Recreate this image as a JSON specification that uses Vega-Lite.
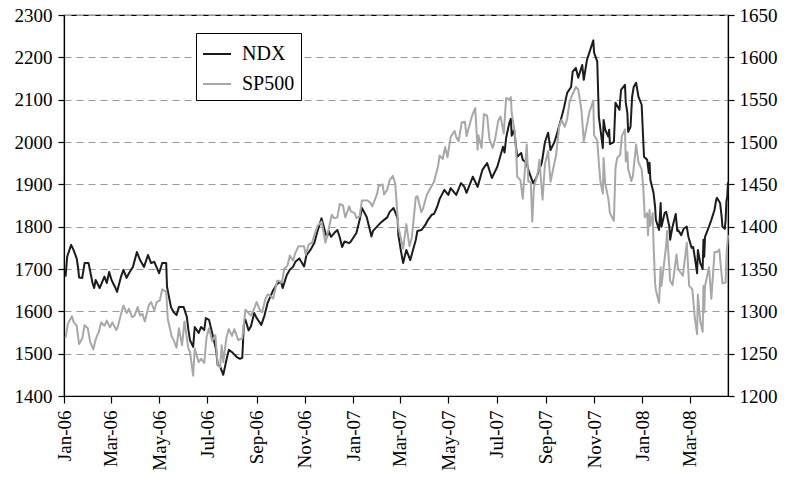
{
  "$schema": "https://vega.github.io/schema/vega-lite/v6.json",
  "width": 664,
  "height": 381,
  "autosize": {"type": "none"},
  "padding": {"left": 64, "top": 15, "right": 61, "bottom": 83},
  "background": "white",
  "config": {
    "view": {"stroke": "#000", "strokeWidth": 1.2},
    "font": "Liberation Serif",
    "axis": {"labelFont": "Liberation Serif", "labelFontSize": 19, "labelColor": "#000", "domainColor": "#000", "tickColor": "#000", "domainWidth": 1.2, "tickWidth": 1.2, "title": null}
  },
  "datasets": {
    "ndx": [
      {"d":"2006-01-03","v":1682},{"d":"2006-01-05","v":1729},{"d":"2006-01-10","v":1757},{"d":"2006-01-13","v":1745},{"d":"2006-01-17","v":1725},{"d":"2006-01-19","v":1700},{"d":"2006-01-20","v":1680},{"d":"2006-01-24","v":1679},{"d":"2006-01-27","v":1714},{"d":"2006-02-01","v":1714},{"d":"2006-02-06","v":1667},{"d":"2006-02-08","v":1655},{"d":"2006-02-10","v":1674},{"d":"2006-02-15","v":1655},{"d":"2006-02-21","v":1682},{"d":"2006-02-24","v":1667},{"d":"2006-02-27","v":1693},{"d":"2006-03-02","v":1674},{"d":"2006-03-07","v":1655},{"d":"2006-03-09","v":1646},{"d":"2006-03-14","v":1682},{"d":"2006-03-17","v":1698},{"d":"2006-03-21","v":1679},{"d":"2006-03-24","v":1690},{"d":"2006-03-29","v":1705},{"d":"2006-04-03","v":1740},{"d":"2006-04-07","v":1721},{"d":"2006-04-12","v":1705},{"d":"2006-04-17","v":1733},{"d":"2006-04-21","v":1714},{"d":"2006-04-25","v":1717},{"d":"2006-05-01","v":1690},{"d":"2006-05-05","v":1714},{"d":"2006-05-10","v":1714},{"d":"2006-05-11","v":1658},{"d":"2006-05-16","v":1610},{"d":"2006-05-19","v":1599},{"d":"2006-05-23","v":1591},{"d":"2006-05-26","v":1610},{"d":"2006-06-01","v":1610},{"d":"2006-06-05","v":1587},{"d":"2006-06-07","v":1556},{"d":"2006-06-09","v":1532},{"d":"2006-06-13","v":1516},{"d":"2006-06-15","v":1563},{"d":"2006-06-20","v":1549},{"d":"2006-06-23","v":1563},{"d":"2006-06-27","v":1556},{"d":"2006-06-29","v":1584},{"d":"2006-07-03","v":1580},{"d":"2006-07-07","v":1549},{"d":"2006-07-12","v":1509},{"d":"2006-07-14","v":1473},{"d":"2006-07-17","v":1470},{"d":"2006-07-21","v":1450},{"d":"2006-07-25","v":1485},{"d":"2006-07-28","v":1509},{"d":"2006-08-02","v":1502},{"d":"2006-08-07","v":1492},{"d":"2006-08-11","v":1488},{"d":"2006-08-14","v":1490},{"d":"2006-08-16","v":1570},{"d":"2006-08-18","v":1580},{"d":"2006-08-22","v":1555},{"d":"2006-08-25","v":1565},{"d":"2006-08-29","v":1596},{"d":"2006-09-01","v":1585},{"d":"2006-09-07","v":1568},{"d":"2006-09-11","v":1590},{"d":"2006-09-15","v":1620},{"d":"2006-09-22","v":1650},{"d":"2006-09-27","v":1665},{"d":"2006-10-02","v":1670},{"d":"2006-10-04","v":1655},{"d":"2006-10-09","v":1685},{"d":"2006-10-13","v":1698},{"d":"2006-10-17","v":1705},{"d":"2006-10-20","v":1717},{"d":"2006-10-25","v":1725},{"d":"2006-10-31","v":1706},{"d":"2006-11-03","v":1733},{"d":"2006-11-08","v":1745},{"d":"2006-11-13","v":1762},{"d":"2006-11-17","v":1790},{"d":"2006-11-22","v":1820},{"d":"2006-11-27","v":1785},{"d":"2006-11-29","v":1776},{"d":"2006-12-01","v":1790},{"d":"2006-12-04","v":1776},{"d":"2006-12-08","v":1785},{"d":"2006-12-12","v":1792},{"d":"2006-12-15","v":1775},{"d":"2006-12-18","v":1752},{"d":"2006-12-21","v":1765},{"d":"2006-12-27","v":1761},{"d":"2006-12-29","v":1765},
      {"d":"2007-01-05","v":1785},{"d":"2007-01-09","v":1815},{"d":"2007-01-12","v":1844},{"d":"2007-01-18","v":1823},{"d":"2007-01-24","v":1777},{"d":"2007-01-26","v":1790},{"d":"2007-01-31","v":1800},{"d":"2007-02-05","v":1810},{"d":"2007-02-09","v":1816},{"d":"2007-02-13","v":1822},{"d":"2007-02-16","v":1835},{"d":"2007-02-21","v":1844},{"d":"2007-02-26","v":1820},{"d":"2007-02-27","v":1780},{"d":"2007-03-02","v":1745},{"d":"2007-03-05","v":1714},{"d":"2007-03-09","v":1745},{"d":"2007-03-14","v":1721},{"d":"2007-03-16","v":1735},{"d":"2007-03-21","v":1769},{"d":"2007-03-23","v":1790},{"d":"2007-03-28","v":1792},{"d":"2007-04-02","v":1804},{"d":"2007-04-05","v":1815},{"d":"2007-04-10","v":1828},{"d":"2007-04-13","v":1830},{"d":"2007-04-17","v":1847},{"d":"2007-04-20","v":1865},{"d":"2007-04-26","v":1887},{"d":"2007-05-01","v":1875},{"d":"2007-05-04","v":1891},{"d":"2007-05-11","v":1875},{"d":"2007-05-17","v":1903},{"d":"2007-05-21","v":1895},{"d":"2007-05-24","v":1880},{"d":"2007-06-01","v":1918},{"d":"2007-06-07","v":1894},{"d":"2007-06-13","v":1934},{"d":"2007-06-19","v":1950},{"d":"2007-06-25","v":1915},{"d":"2007-07-02","v":1942},{"d":"2007-07-09","v":1989},{"d":"2007-07-11","v":1975},{"d":"2007-07-13","v":2010},{"d":"2007-07-17","v":2045},{"d":"2007-07-19","v":2055},{"d":"2007-07-20","v":2015},{"d":"2007-07-23","v":2029},{"d":"2007-07-26","v":1981},{"d":"2007-07-27","v":1965},{"d":"2007-08-01","v":1974},{"d":"2007-08-03","v":1958},{"d":"2007-08-08","v":1950},{"d":"2007-08-10","v":1934},{"d":"2007-08-16","v":1903},{"d":"2007-08-20","v":1915},{"d":"2007-08-27","v":1951},{"d":"2007-08-31","v":2000},{"d":"2007-09-04","v":2022},{"d":"2007-09-07","v":1981},{"d":"2007-09-12","v":2000},{"d":"2007-09-14","v":2012},{"d":"2007-09-20","v":2052},{"d":"2007-09-24","v":2081},{"d":"2007-09-28","v":2116},{"d":"2007-10-03","v":2130},{"d":"2007-10-05","v":2166},{"d":"2007-10-09","v":2175},{"d":"2007-10-12","v":2152},{"d":"2007-10-17","v":2182},{"d":"2007-10-19","v":2147},{"d":"2007-10-23","v":2194},{"d":"2007-10-26","v":2211},{"d":"2007-10-31","v":2240},{"d":"2007-11-01","v":2211},{"d":"2007-11-05","v":2190},{"d":"2007-11-07","v":2060},{"d":"2007-11-12","v":1986},{"d":"2007-11-13","v":2052},{"d":"2007-11-15","v":2029},{"d":"2007-11-19","v":2013},{"d":"2007-11-20","v":2029},{"d":"2007-11-21","v":1995},{"d":"2007-11-26","v":2000},{"d":"2007-11-28","v":2093},{"d":"2007-12-03","v":2076},{"d":"2007-12-05","v":2123},{"d":"2007-12-10","v":2135},{"d":"2007-12-11","v":2093},{"d":"2007-12-13","v":2069},{"d":"2007-12-14","v":2024},{"d":"2007-12-17","v":2036},{"d":"2007-12-19","v":2107},{"d":"2007-12-21","v":2130},{"d":"2007-12-24","v":2140},{"d":"2007-12-27","v":2107},{"d":"2007-12-31","v":2088},
      {"d":"2008-01-03","v":1965},{"d":"2008-01-07","v":1958},{"d":"2008-01-09","v":1927},{"d":"2008-01-10","v":1951},{"d":"2008-01-11","v":1911},{"d":"2008-01-15","v":1880},{"d":"2008-01-17","v":1847},{"d":"2008-01-18","v":1816},{"d":"2008-01-22","v":1792},{"d":"2008-01-23","v":1823},{"d":"2008-01-24","v":1856},{"d":"2008-01-25","v":1800},{"d":"2008-01-29","v":1832},{"d":"2008-01-31","v":1835},{"d":"2008-02-04","v":1800},{"d":"2008-02-05","v":1769},{"d":"2008-02-08","v":1800},{"d":"2008-02-12","v":1830},{"d":"2008-02-14","v":1790},{"d":"2008-02-15","v":1792},{"d":"2008-02-19","v":1780},{"d":"2008-02-22","v":1795},{"d":"2008-02-26","v":1800},{"d":"2008-02-28","v":1776},{"d":"2008-03-03","v":1750},{"d":"2008-03-05","v":1752},{"d":"2008-03-07","v":1729},{"d":"2008-03-10","v":1690},{"d":"2008-03-11","v":1745},{"d":"2008-03-14","v":1714},{"d":"2008-03-17","v":1700},{"d":"2008-03-18","v":1769},{"d":"2008-03-19","v":1729},{"d":"2008-03-20","v":1776},{"d":"2008-03-25","v":1800},{"d":"2008-03-28","v":1816},{"d":"2008-04-01","v":1840},{"d":"2008-04-03","v":1863},{"d":"2008-04-04","v":1868},{"d":"2008-04-08","v":1856},{"d":"2008-04-10","v":1823},{"d":"2008-04-11","v":1800},{"d":"2008-04-14","v":1795},{"d":"2008-04-15","v":1816},{"d":"2008-04-16","v":1860},{"d":"2008-04-17","v":1870},{"d":"2008-04-18","v":1905}
    ],
    "sp": [
      {"d":"2006-01-03","v":1268.8},{"d":"2006-01-06","v":1285.5},{"d":"2006-01-11","v":1294.2},{"d":"2006-01-13","v":1287.6},{"d":"2006-01-17","v":1283},{"d":"2006-01-20","v":1261.5},{"d":"2006-01-24","v":1268},{"d":"2006-01-27","v":1283.7},{"d":"2006-01-31","v":1280},{"d":"2006-02-03","v":1264},{"d":"2006-02-07","v":1255},{"d":"2006-02-10","v":1267},{"d":"2006-02-14","v":1276},{"d":"2006-02-17","v":1287},{"d":"2006-02-21","v":1283},{"d":"2006-02-24","v":1289},{"d":"2006-02-28","v":1281},{"d":"2006-03-03","v":1287},{"d":"2006-03-08","v":1278},{"d":"2006-03-10","v":1282},{"d":"2006-03-14","v":1297},{"d":"2006-03-17","v":1307},{"d":"2006-03-21","v":1298},{"d":"2006-03-24","v":1303},{"d":"2006-03-28","v":1293},{"d":"2006-03-31","v":1295},{"d":"2006-04-04","v":1305},{"d":"2006-04-07","v":1295},{"d":"2006-04-10","v":1297},{"d":"2006-04-13","v":1288},{"d":"2006-04-18","v":1307},{"d":"2006-04-21","v":1311},{"d":"2006-04-25","v":1301},{"d":"2006-04-28","v":1311},{"d":"2006-05-02","v":1313},{"d":"2006-05-05","v":1326},{"d":"2006-05-10","v":1323},{"d":"2006-05-12","v":1291},{"d":"2006-05-17","v":1270},{"d":"2006-05-19","v":1267},{"d":"2006-05-23","v":1257},{"d":"2006-05-26","v":1280},{"d":"2006-05-30","v":1260},{"d":"2006-06-02","v":1288},{"d":"2006-06-07","v":1256},{"d":"2006-06-09","v":1252},{"d":"2006-06-13","v":1224},{"d":"2006-06-15","v":1256},{"d":"2006-06-20","v":1240},{"d":"2006-06-23","v":1244},{"d":"2006-06-27","v":1239},{"d":"2006-06-30","v":1270},{"d":"2006-07-03","v":1280},{"d":"2006-07-07","v":1265},{"d":"2006-07-11","v":1272},{"d":"2006-07-14","v":1236},{"d":"2006-07-17","v":1234},{"d":"2006-07-19","v":1260},{"d":"2006-07-21","v":1240},{"d":"2006-07-25","v":1269},{"d":"2006-07-28","v":1279},{"d":"2006-08-01","v":1271},{"d":"2006-08-04","v":1279},{"d":"2006-08-09","v":1266},{"d":"2006-08-11","v":1267},{"d":"2006-08-14","v":1268},{"d":"2006-08-18","v":1302},{"d":"2006-08-22","v":1298},{"d":"2006-08-25","v":1295},{"d":"2006-08-29","v":1303},{"d":"2006-09-01","v":1311},{"d":"2006-09-06","v":1300},{"d":"2006-09-08","v":1299},{"d":"2006-09-12","v":1314},{"d":"2006-09-15","v":1320},{"d":"2006-09-19","v":1318},{"d":"2006-09-22","v":1315},{"d":"2006-09-27","v":1336},{"d":"2006-09-29","v":1336},{"d":"2006-10-03","v":1334},{"d":"2006-10-06","v":1350},{"d":"2006-10-10","v":1354},{"d":"2006-10-13","v":1366},{"d":"2006-10-17","v":1360},{"d":"2006-10-20","v":1369},{"d":"2006-10-24","v":1377},{"d":"2006-10-27","v":1377},{"d":"2006-10-31","v":1377},{"d":"2006-11-02","v":1367},{"d":"2006-11-06","v":1379},{"d":"2006-11-10","v":1381},{"d":"2006-11-14","v":1393},{"d":"2006-11-17","v":1401},{"d":"2006-11-22","v":1406},{"d":"2006-11-27","v":1381},{"d":"2006-12-01","v":1397},{"d":"2006-12-05","v":1414},{"d":"2006-12-08","v":1410},{"d":"2006-12-12","v":1411},{"d":"2006-12-15","v":1427},{"d":"2006-12-19","v":1425},{"d":"2006-12-22","v":1411},{"d":"2006-12-27","v":1424},{"d":"2006-12-29","v":1418},
      {"d":"2007-01-03","v":1416},{"d":"2007-01-05","v":1410},{"d":"2007-01-09","v":1412},{"d":"2007-01-12","v":1431},{"d":"2007-01-16","v":1431},{"d":"2007-01-19","v":1431},{"d":"2007-01-23","v":1428},{"d":"2007-01-25","v":1424},{"d":"2007-01-31","v":1438},{"d":"2007-02-02","v":1448},{"d":"2007-02-07","v":1450},{"d":"2007-02-09","v":1438},{"d":"2007-02-13","v":1444},{"d":"2007-02-16","v":1455},{"d":"2007-02-20","v":1460},{"d":"2007-02-23","v":1451},{"d":"2007-02-27","v":1399},{"d":"2007-03-02","v":1387},{"d":"2007-03-05","v":1374},{"d":"2007-03-09","v":1403},{"d":"2007-03-13","v":1377},{"d":"2007-03-16","v":1387},{"d":"2007-03-21","v":1435},{"d":"2007-03-23","v":1436},{"d":"2007-03-28","v":1417},{"d":"2007-03-30","v":1421},{"d":"2007-04-04","v":1438},{"d":"2007-04-10","v":1448},{"d":"2007-04-13","v":1453},{"d":"2007-04-18","v":1471},{"d":"2007-04-20","v":1484},{"d":"2007-04-24","v":1480},{"d":"2007-04-27","v":1494},{"d":"2007-04-30","v":1482},{"d":"2007-05-04","v":1506},{"d":"2007-05-09","v":1513},{"d":"2007-05-11","v":1506},{"d":"2007-05-14","v":1501},{"d":"2007-05-18","v":1523},{"d":"2007-05-22","v":1524},{"d":"2007-05-24","v":1507},{"d":"2007-05-31","v":1531},{"d":"2007-06-04","v":1540},{"d":"2007-06-07","v":1491},{"d":"2007-06-08","v":1508},{"d":"2007-06-12","v":1493},{"d":"2007-06-15","v":1533},{"d":"2007-06-19","v":1531},{"d":"2007-06-22","v":1503},{"d":"2007-06-26","v":1493},{"d":"2007-06-29","v":1503},{"d":"2007-07-03","v":1525},{"d":"2007-07-06","v":1530},{"d":"2007-07-10","v":1510},{"d":"2007-07-13","v":1552},{"d":"2007-07-17","v":1550},{"d":"2007-07-19","v":1553},{"d":"2007-07-20","v":1534},{"d":"2007-07-24","v":1511},{"d":"2007-07-26","v":1482},{"d":"2007-07-27","v":1459},{"d":"2007-07-31","v":1455},{"d":"2007-08-03","v":1433},{"d":"2007-08-08","v":1497},{"d":"2007-08-10","v":1453},{"d":"2007-08-13","v":1453},{"d":"2007-08-15","v":1406},{"d":"2007-08-17","v":1446},{"d":"2007-08-22","v":1464},{"d":"2007-08-24","v":1479},{"d":"2007-08-28","v":1432},{"d":"2007-08-31","v":1474},{"d":"2007-09-04","v":1489},{"d":"2007-09-07","v":1453},{"d":"2007-09-11","v":1471},{"d":"2007-09-14","v":1484},{"d":"2007-09-18","v":1519},{"d":"2007-09-21","v":1526},{"d":"2007-09-25","v":1518},{"d":"2007-09-28","v":1527},{"d":"2007-10-01","v":1547},{"d":"2007-10-05","v":1557},{"d":"2007-10-09","v":1565},{"d":"2007-10-12","v":1562},{"d":"2007-10-16","v":1538},{"d":"2007-10-19","v":1501},{"d":"2007-10-23","v":1520},{"d":"2007-10-26","v":1535},{"d":"2007-10-31","v":1549},{"d":"2007-11-01","v":1508},{"d":"2007-11-05","v":1502},{"d":"2007-11-07","v":1475},{"d":"2007-11-09","v":1453},{"d":"2007-11-12","v":1439},{"d":"2007-11-13","v":1481},{"d":"2007-11-15","v":1451},{"d":"2007-11-19","v":1433},{"d":"2007-11-21","v":1416},{"d":"2007-11-26","v":1407},{"d":"2007-11-28","v":1469},{"d":"2007-11-30","v":1481},{"d":"2007-12-04","v":1485},{"d":"2007-12-06","v":1507},{"d":"2007-12-10","v":1515},{"d":"2007-12-11","v":1477},{"d":"2007-12-13","v":1488},{"d":"2007-12-14","v":1468},{"d":"2007-12-18","v":1454},{"d":"2007-12-20","v":1460},{"d":"2007-12-24","v":1497},{"d":"2007-12-27","v":1476},{"d":"2007-12-31","v":1468},
      {"d":"2008-01-02","v":1447},{"d":"2008-01-04","v":1411},{"d":"2008-01-07","v":1416},{"d":"2008-01-08","v":1390},{"d":"2008-01-10","v":1420},{"d":"2008-01-11","v":1401},{"d":"2008-01-14","v":1416},{"d":"2008-01-15","v":1380},{"d":"2008-01-17","v":1333},{"d":"2008-01-18","v":1325},{"d":"2008-01-22","v":1310},{"d":"2008-01-24","v":1352},{"d":"2008-01-25","v":1330},{"d":"2008-01-29","v":1362},{"d":"2008-01-31","v":1378},{"d":"2008-02-01","v":1395},{"d":"2008-02-05","v":1336},{"d":"2008-02-08","v":1331},{"d":"2008-02-13","v":1367},{"d":"2008-02-15","v":1350},{"d":"2008-02-21","v":1342},{"d":"2008-02-26","v":1381},{"d":"2008-02-29","v":1330},{"d":"2008-03-04","v":1326},{"d":"2008-03-07","v":1293},{"d":"2008-03-10","v":1273},{"d":"2008-03-11","v":1320},{"d":"2008-03-14","v":1288},{"d":"2008-03-17","v":1276},{"d":"2008-03-18","v":1330},{"d":"2008-03-19","v":1299},{"d":"2008-03-20","v":1330},{"d":"2008-03-25","v":1352},{"d":"2008-03-28","v":1315},{"d":"2008-04-01","v":1370},{"d":"2008-04-04","v":1370},{"d":"2008-04-07","v":1373},{"d":"2008-04-11","v":1333},{"d":"2008-04-15","v":1334},{"d":"2008-04-16","v":1365},{"d":"2008-04-18","v":1390}
    ]
  },
  "encoding": {
    "x": {
      "field": "d", "type": "temporal",
      "scale": {"type": "utc", "domain": [{"year": 2006, "month": 1, "date": 1, "utc": true}, {"year": 2008, "month": 4, "date": 18, "utc": true}]},
      "axis": {
        "values": [
          {"year": 2006, "month": 1, "date": 1, "utc": true},
          {"year": 2006, "month": 3, "date": 1, "utc": true},
          {"year": 2006, "month": 5, "date": 1, "utc": true},
          {"year": 2006, "month": 7, "date": 1, "utc": true},
          {"year": 2006, "month": 9, "date": 1, "utc": true},
          {"year": 2006, "month": 11, "date": 1, "utc": true},
          {"year": 2007, "month": 1, "date": 1, "utc": true},
          {"year": 2007, "month": 3, "date": 1, "utc": true},
          {"year": 2007, "month": 5, "date": 1, "utc": true},
          {"year": 2007, "month": 7, "date": 1, "utc": true},
          {"year": 2007, "month": 9, "date": 1, "utc": true},
          {"year": 2007, "month": 11, "date": 1, "utc": true},
          {"year": 2008, "month": 1, "date": 1, "utc": true},
          {"year": 2008, "month": 3, "date": 1, "utc": true}
        ],
        "format": "%b-%y",
        "labelAngle": -90, "labelAlign": "right", "labelBaseline": "middle",
        "tickSize": 7, "labelPadding": 7, "grid": false, "labelFlush": false, "labelOverlap": false
      }
    }
  },
  "layer": [
    {
      "data": {"name": "ndx"},
      "mark": {"type": "line", "strokeWidth": 2, "strokeJoin": "round"},
      "encoding": {
        "y": {
          "field": "v", "type": "quantitative",
          "scale": {"domain": [1400, 2300], "nice": false, "zero": false},
          "axis": {"orient": "left", "format": "d", "values": [1400,1500,1600,1700,1800,1900,2000,2100,2200,2300], "tickSize": 6, "labelPadding": 6, "grid": true, "gridColor": "#9a9a9a", "gridDash": [7, 5], "gridWidth": 1, "labelFlush": false}
        },
        "color": {
          "datum": "NDX", "type": "nominal",
          "scale": {"domain": ["NDX", "SP500"], "range": ["#1c1c1c", "#a8a8a8"]},
          "legend": {
            "orient": "none", "legendX": 132, "legendY": 18, "title": null,
            "symbolType": "stroke", "symbolSize": 784, "symbolStrokeWidth": 2,
            "labelFont": "Liberation Serif", "labelFontSize": 20, "labelColor": "#000", "labelOffset": 10,
            "strokeColor": "#000", "padding": 6, "rowPadding": 5, "fillColor": "#fff"
          }
        }
      }
    },
    {
      "data": {"name": "sp"},
      "mark": {"type": "line", "strokeWidth": 2, "strokeJoin": "round"},
      "encoding": {
        "y": {
          "field": "v", "type": "quantitative",
          "scale": {"domain": [1200, 1650], "nice": false, "zero": false},
          "axis": {"orient": "right", "format": "d", "values": [1200,1250,1300,1350,1400,1450,1500,1550,1600,1650], "tickSize": 6, "labelPadding": 5, "grid": false, "labelFlush": false}
        },
        "color": {"datum": "SP500", "type": "nominal"}
      }
    }
  ],
  "resolve": {"scale": {"y": "independent", "color": "shared"}}
}
